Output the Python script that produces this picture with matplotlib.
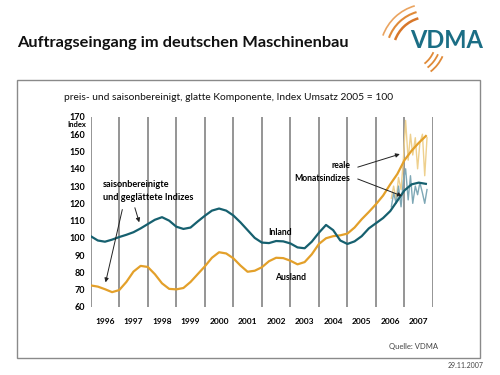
import matplotlib
matplotlib.use("Agg")
import matplotlib.pyplot as plt
from matplotlib.patches import Rectangle, Arc

plt.rcParams['font.family'] = ['Lato', 'DejaVu Sans']

# quarterly readings of the smoothed series (1996.00 ... 2007.75)
years_q = [1996 + 0.25 * i for i in range(48)]
inland = [101, 98.5, 97.8, 99, 100.5, 101.8, 103.3, 105.5, 108, 110.5, 112, 110,
          106.5, 105.2, 106, 109.5, 112.8, 115.8, 117, 115.8, 113, 109, 104.5, 100,
          97.3, 97, 98.2, 98, 96.8, 94.5, 94, 97.8, 103, 107.5, 104.5, 98.5,
          96.5, 98, 101, 105.5, 108.5, 111.5, 115.5, 121.5, 127.5, 131, 132, 131.3]
ausland = [72.5, 71.8, 70.3, 68.6, 69.8, 74.5, 80.5, 83.8, 83.2, 79, 73.7, 70.5,
           70.2, 71, 74.5, 79, 83.5, 88.5, 91.7, 91, 88.2, 84, 80.4, 81,
           83, 86.5, 88.5, 88.3, 86.8, 84.7, 86, 90.5, 96.5, 99.8, 101, 101.5,
           102.5, 106, 110.8, 115, 119.5, 124.5, 131, 137, 145, 150.5, 155, 159]

# raw monthly indices, 2006.54 ... 2007.79
years_m = [2006.54, 2006.62, 2006.71, 2006.79, 2006.88, 2006.96, 2007.04, 2007.13,
           2007.21, 2007.29, 2007.38, 2007.46, 2007.54, 2007.63, 2007.71, 2007.79]
ausland_m = [123, 130, 122, 135, 128, 145, 168, 145, 160, 148, 158, 140, 155, 160, 136, 158]
inland_m = [118, 126, 120, 130, 118, 133, 140, 122, 136, 120, 130, 125, 132, 126, 120, 128]

year_labels = [str(y) for y in range(1996, 2008)]
yticks = list(range(60, 171, 10))

W, H = 500, 375
def P(x, y):
    return (x / W, 1 - y / H)

teal = '#16606f'
orange = '#e3a02a'

fig = plt.figure(figsize=(5, 3.75), dpi=100)
fig.patch.set_facecolor('white')

# frame
fig.add_artist(Rectangle(P(17, 358), 463 / W, 278 / H, transform=fig.transFigure,
                         fill=False, edgecolor='#8a8a8a', lw=1.0))

fig.text(*P(17, 43), 'Auftragseingang im deutschen Maschinenbau', fontsize=11.8,
         fontweight='bold', color='#111111', va='center', ha='left')
fig.text(*P(229, 97), 'preis- und saisonbereinigt, glatte Komponente, Index Umsatz 2005 = 100',
         fontsize=7.4, color='#111111', va='center', ha='center')
fig.text(*P(438, 346), 'Quelle: VDMA', fontsize=5.5, color='#444444', ha='right', va='center')
fig.text(*P(483, 365), '29.11.2007', fontsize=5, color='#444444', ha='right', va='center')

# logo (pixel coords, y measured upward from y=80)
fig.text(*P(447, 40), 'VDMA', fontsize=17, fontweight='bold', color='#1b6e85',
         ha='center', va='center')
lax = fig.add_axes([370 / W, 1 - 80 / H, 80 / W, 80 / H])
lax.set_xlim(370, 450)
lax.set_ylim(0, 80)
lax.set_aspect('equal')
lax.axis('off')
for r, c, w in ((35, '#d8772a', 1.8), (41.5, '#e08a38', 1.5), (48, '#eaa460', 1.2)):
    lax.add_patch(Arc((428, 28), 2 * r, 2 * r, theta1=106, theta2=160, color=c, lw=w))
for r in (30, 35, 40):
    lax.add_patch(Arc((406, 40), 2 * r, 2 * r, theta1=308, theta2=336, color='#e08a38', lw=1.3))

ax = fig.add_axes([90.7 / W, 1 - 307 / H, (433 - 90.7) / W, 190 / H])
ax.set_xlim(1996, 2008)
ax.set_ylim(60, 170)
for s in ax.spines.values():
    s.set_visible(False)

ax.set_xticks(range(1996, 2009))
ax.set_xticklabels([])
ax.set_xticks([y + 0.5 for y in range(1996, 2008)], minor=True)
ax.set_xticklabels(year_labels, minor=True, fontsize=6, fontweight='bold')
ax.tick_params(axis='x', which='both', length=0, pad=8)
ax.grid(axis='x', which='major', color='#8c8c8c', lw=1.3)
ax.set_yticks(yticks)
ax.set_yticklabels([str(v) for v in yticks], fontsize=6.5, fontweight='bold')
ax.tick_params(axis='y', length=0, pad=4)
ax.text(-0.012, 165.6, 'Index', transform=ax.get_yaxis_transform(), ha='right',
        va='center', fontsize=5.5, fontweight='bold')

ax.plot(years_m, ausland_m, color='#eed08e', lw=1.0)
ax.plot(years_m, inland_m, color='#7ea8b6', lw=1.0)
ax.plot(years_q, ausland, color=orange, lw=1.6, solid_joinstyle='round')
ax.plot(years_q, inland, color=teal, lw=1.6, solid_joinstyle='round')

ax.text(2002.21, 103.4, 'Inland', fontsize=6.2, fontweight='bold', ha='left', va='center')
ax.text(2002.47, 76.8, 'Ausland', fontsize=6.2, fontweight='bold', ha='left', va='center')

ax.text(1996.43, 127, 'saisonbereinigte\nund geglättete Indizes', fontsize=6.6,
        fontweight='bold', ha='left', va='center', linespacing=1.55)
arr = dict(arrowstyle='-|>', color='#222222', lw=0.7, mutation_scale=6)
ax.annotate('', xy=(1996.5, 72.7), xytext=(1997.13, 118), arrowprops=arr)
ax.annotate('', xy=(1997.73, 107.5), xytext=(1997.52, 119), arrowprops=arr)

ax.text(2005.1, 138, 'reale\nMonatsindizes', fontsize=6.2, fontweight='bold',
        ha='right', va='center', linespacing=1.55)
ax.annotate('', xy=(2006.93, 149), xytext=(2005.27, 140.5), arrowprops=arr)
ax.annotate('', xy=(2007.0, 123.7), xytext=(2005.27, 134.7), arrowprops=arr)

fig.savefig('out.png', dpi=100)
